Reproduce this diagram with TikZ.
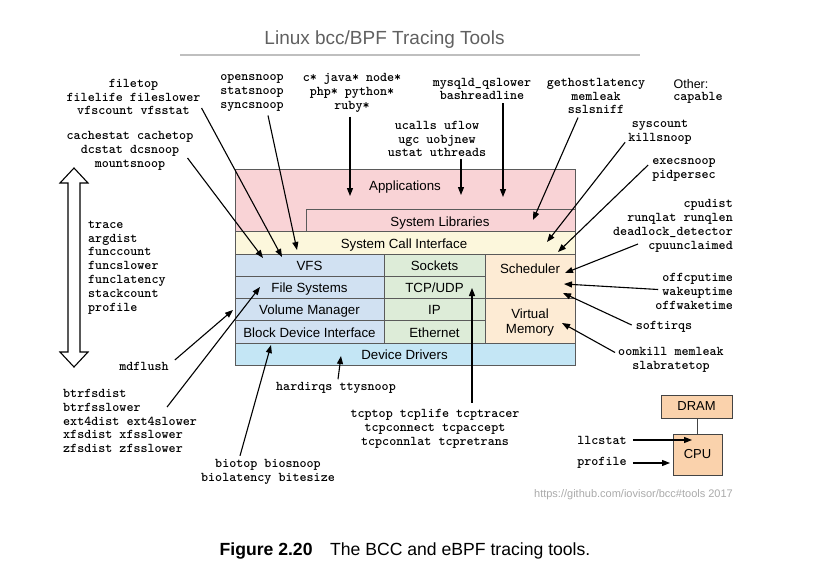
\documentclass[tikz,border=0pt]{standalone}
\usepackage{fontspec}
\setmainfont{Liberation Sans}
\usetikzlibrary{arrows.meta,calc}
\definecolor{apppink}{HTML}{F9D3D6}
\definecolor{sciyel}{HTML}{FCF7DC}
\definecolor{fsblue}{HTML}{D1E1F2}
\definecolor{netgreen}{HTML}{DDECD8}
\definecolor{cpupeach}{HTML}{FDEBD4}
\definecolor{devcyan}{HTML}{C4E6F5}
\definecolor{chipfill}{HTML}{FAD2AC}
\definecolor{linegray}{HTML}{5A5A5A}
\definecolor{titlegray}{HTML}{444444}
\definecolor{urlgray}{HTML}{AAAAAA}
\tikzset{
  mono/.style={font=\ttfamily\bfseries\fontsize{13.4}{13.8}\selectfont, align=center, inner sep=0pt},
  monol/.style={mono, align=left},
  monor/.style={mono, align=right},
  layer/.style={draw=linegray, line width=0.9pt},
  lbl/.style={font=\fontsize{13.3}{15.5}\selectfont, inner sep=0pt, text height=9.6pt, text depth=2.2pt, yshift=-1.8pt},
  arr/.style={-{Triangle[length=8pt,width=6pt]}, line width=1.1pt},
  chipbox/.style={draw=titlegray, line width=1pt, fill=chipfill, font=\fontsize{13}{15}\selectfont, inner sep=0pt},
}
\begin{document}
\begin{tikzpicture}[x=1pt,y=-1pt]
\useasboundingbox (0,0) rectangle (817,579);
% title
\node[font=\fontsize{19}{22}\selectfont, text=titlegray!85, inner sep=0pt] (title) at (384.5,40) {Linux bcc/BPF Tracing Tools};
\draw[line width=1.5pt, draw=black!25] (180,55) coordinate (rl) -- (640,55) coordinate (rr);
% stack
\path[layer, fill=apppink] (235,169) rectangle (575,231);
\path[layer, fill=apppink] (306,209) rectangle (575,231);
\path[layer, fill=sciyel] (235,231) rectangle (575,254);
\path[layer, fill=fsblue] (235,254) rectangle (384,276);
\path[layer, fill=fsblue] (235,276) rectangle (384,298);
\path[layer, fill=fsblue] (235,298) rectangle (384,320);
\path[layer, fill=fsblue] (235,320) rectangle (384,343);
\path[layer, fill=netgreen] (384,254) rectangle (485,276);
\path[layer, fill=netgreen] (384,276) rectangle (485,298);
\path[layer, fill=netgreen] (384,298) rectangle (485,320);
\path[layer, fill=netgreen] (384,320) rectangle (485,343);
\path[layer, fill=cpupeach] (485,254) rectangle (575,298);
\path[layer, fill=cpupeach] (485,298) rectangle (575,343);
\path[layer, fill=devcyan] (235,343) rectangle (575,365);
\node[lbl] (apps) at (405,185) {Applications};
\node[lbl] (syslib) at (440,220.5) {System Libraries};
\node[lbl] (sci) at (404,242.5) {System Call Interface};
\node[lbl] (vfs) at (309.5,265) {VFS};
\node[lbl] (fs) at (309.5,287) {File Systems};
\node[lbl] (vol) at (309.5,309) {Volume Manager};
\node[lbl] (bdi) at (309.5,331.5) {Block Device Interface};
\node[lbl] (sock) at (434.5,265) {Sockets};
\node[lbl] (tcp) at (434.5,287) {TCP/UDP};
\node[lbl] (ip) at (434.5,309) {IP};
\node[lbl] (eth) at (434.5,331.5) {Ethernet};
\node[lbl] (sched) at (530,268) {Scheduler};
\node[lbl, align=center, text height=, text depth=] (vm) at (530,321) {Virtual\\Memory};
\node[lbl] (dev) at (404.5,354) {Device Drivers};
% tip coordinates
\coordinate (tvfs1) at (263,258);
\coordinate (tvfs2) at (282,257);
\coordinate (tvfs3) at (297,250);
\coordinate (tapp1) at (350,196);
\coordinate (tapp2) at (461,195);
\coordinate (tapp3) at (503,197);
\coordinate (tlib) at (533,220);
\coordinate (tsci1) at (547,242);
\coordinate (tsci2) at (558,252);
\coordinate (tsch1) at (565,273);
\coordinate (tsch2) at (564,284);
\coordinate (tsch3) at (563,293);
\coordinate (tvm) at (562,323);
\coordinate (tvol) at (233,310);
\coordinate (tfs) at (260,287);
\coordinate (tbdi) at (271,345);
\coordinate (tdev) at (341,356);
\coordinate (ttcp) at (472,288);
\coordinate (tcpu1) at (692,440);
\coordinate (tcpu2) at (670,463);
% labels
\node[mono] (filetop) at (133.5,97) {filetop\\filelife fileslower\\vfscount vfsstat};
\node[mono] (cache) at (130,151) {cachestat cachetop\\dcstat dcsnoop\\mountsnoop};
\node[mono] (opens) at (252,93) {opensnoop\\statsnoop\\syncsnoop};
\node[mono] (lang) at (352,93) {c* java* node*\\php* python*\\ruby*};
\node[mono] (mysql) at (482,89) {mysqld\_qslower\\bashreadline};
\node[mono] (ucalls) at (437,139) {ucalls uflow\\ugc uobjnew\\ustat uthreads};
\node[mono] (gethost) at (596,96) {gethostlatency\\memleak\\sslsniff};
\node[font=\fontsize{12.5}{14}\selectfont, inner sep=0pt] (other) at (691,84) {Other:};
\node[mono] (capable) at (698,98) {capable};
\node[mono] (syscount) at (660,132) {syscount\\killsnoop};
\node[mono] (execs) at (684,170) {execsnoop\\pidpersec};
\node[monor, anchor=east] (cpudist) at (733,226) {cpudist\\runqlat runqlen\\deadlock\_detector\\cpuunclaimed};
\node[monor, anchor=east] (offcpu) at (733,291.5) {offcputime\\wakeuptime\\offwaketime};
\node[mono] (softirqs) at (664,327) {softirqs};
\node[mono] (oomkill) at (671,359.5) {oomkill memleak\\slabratetop};
\node[monol, anchor=west] (trace) at (88,267.5) {trace\\argdist\\funccount\\funcslower\\funclatency\\stackcount\\profile};
\node[mono] (mdflush) at (144,366) {mdflush};
\node[monol, anchor=west] (btrfs) at (63,421) {btrfsdist\\btrfsslower\\ext4dist ext4slower\\xfsdist xfsslower\\zfsdist zfsslower};
\node[mono] (biotop) at (268,472) {biotop biosnoop\\biolatency bitesize};
\node[mono] (hardirqs) at (336,388) {hardirqs ttysnoop};
\node[mono] (tcptop) at (435,429) {tcptop tcplife tcptracer\\tcpconnect tcpaccept\\tcpconnlat tcpretrans};
\node[mono] (llcstat) at (602,440) {llcstat};
\node[mono] (profile) at (602,463) {profile};
% double arrow
\draw[line width=1.1pt, fill=white] (74,168) -- (88,183) -- (80,183) -- (80,352) -- (88,352) -- (74,367) -- (60,352) -- (68,352) -- (68,183) -- (60,183) -- cycle;
% arrows
\draw[arr] ([shift={(1,11)}]filetop.east) -- (tvfs2);
\draw[arr] ([shift={(-6,7)}]cache.east) -- (tvfs1);
\draw[arr] ([shift={(16,4)}]opens.south) -- (tvfs3);
\draw[arr] ([shift={(-2,4)}]lang.south) -- (tapp1);
\draw[arr] ([shift={(24,2)}]ucalls.south) -- (tapp2);
\draw[arr] ([shift={(21,3)}]mysql.south) -- (tapp3);
\draw[arr] ([shift={(-18,3.5)}]gethost.south) -- (tlib);
\draw[arr] ([shift={(-3,-2)}]syscount.south west) -- (tsci1);
\draw[arr] ([shift={(-4,-5)}]execs.west) -- (tsci2);
\draw[arr] ([shift={(25,18)}]cpudist.west) -- (tsch1);
\draw[arr] ([shift={(3,-2)}]offcpu.west) -- (tsch2);
\draw[arr] ([shift={(-4,-2)}]softirqs.west) -- (tsch3);
\draw[arr] ([shift={(-3,-7)}]oomkill.west) -- (tvm);
\draw[arr] ([shift={(6,-6)}]mdflush.east) -- (tvol);
\draw[arr] ([shift={(-30,-14)}]btrfs.east) -- (tfs);
\draw[arr] ([shift={(-28,-3.5)}]biotop.north) -- (tbdi);
\draw[arr] ([shift={(2,-3)}]hardirqs.north) -- (tdev);
\draw[arr] ([shift={(37,-6.5)}]tcptop.north) -- (ttcp);
% DRAM / CPU
\node[chipbox, minimum width=71pt, minimum height=23pt] (dram) at (696.5,406.5) {DRAM};
\node[chipbox, minimum width=49pt, minimum height=41pt] (cpu) at (697.5,454.5) {CPU};
\draw[line width=1pt, draw=titlegray] (cpu.north) -- (cpu.north |- dram.south);
\draw[arr] ([shift={(6,0)}]llcstat.east) -- (tcpu1);
\draw[arr] ([shift={(6,0)}]profile.east) -- (tcpu2);
% footer
\node[font=\fontsize{11}{13}\selectfont, text=urlgray, inner sep=0pt] (url) at (633.5,495) {https://github.com/iovisor/bcc\#tools 2017};
\node[font=\fontsize{17.6}{20}\selectfont, inner sep=0pt] (caption) at (405,551) {\textbf{Figure 2.20}\quad The BCC and eBPF tracing tools.};
\end{tikzpicture}
\end{document}
